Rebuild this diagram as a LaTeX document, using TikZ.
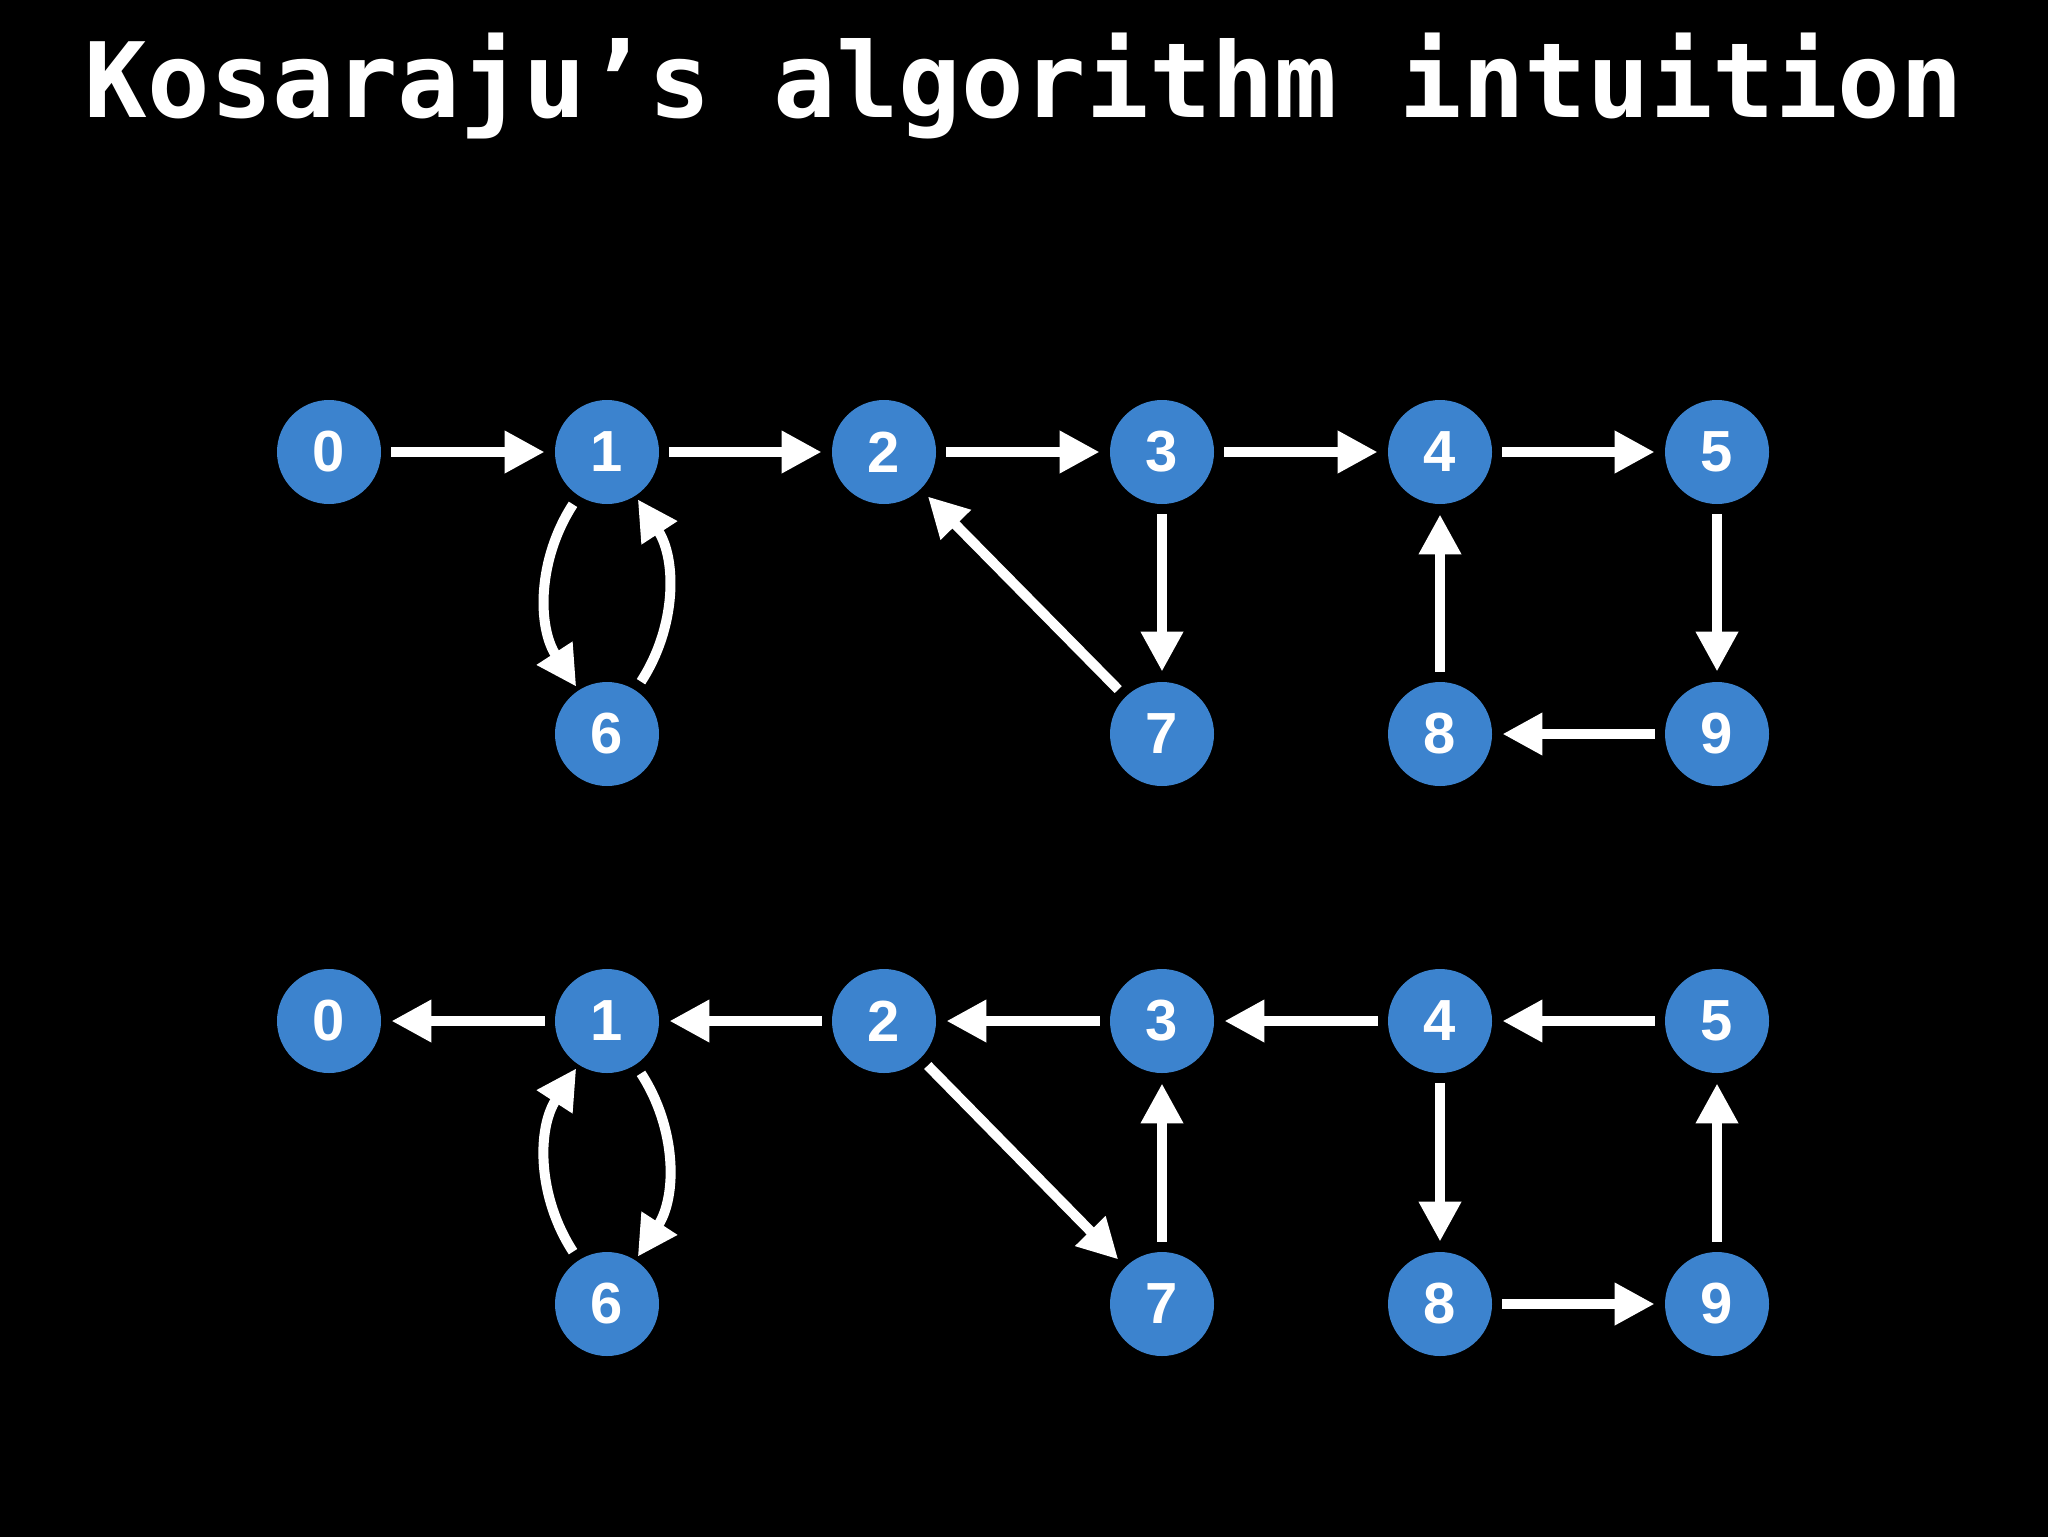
\documentclass[tikz,border=0pt]{standalone}
\usepackage{fontspec}
\setmainfont{Liberation Sans}
\setmonofont{DejaVu Sans Mono}
\usepackage{tikz}
\usetikzlibrary{arrows.meta}
\definecolor{nodeblue}{RGB}{60,131,206}
\tikzset{every node/.append style={font=\bfseries\fontsize{29}{34}\selectfont}}

\begin{document}
\begin{tikzpicture}[x=0.5pt, y=-0.5pt,
    vx/.style={circle, fill=nodeblue, text=white, minimum size=52pt, inner sep=0pt},
    ed/.style={-{Triangle[length=20pt, width=20pt]}, line width=5pt, white, shorten <=5pt, shorten >=5pt},
    ttl/.style={text=white, anchor=base, inner sep=0pt, font=\ttfamily\bfseries\fontsize{52}{60}\selectfont}]
    \useasboundingbox (0,0) rectangle (2048,1536);
    \fill[black] (-10,-10) rectangle (2058,1546);
    \node[ttl] (title) at (1024,118) {Kosaraju’s algorithm intuition};
    % original graph
    \node[vx] (t0) at (329,452) {0};
    \node[vx] (t1) at (607,452) {1};
    \node[vx] (t2) at (884,452) {2};
    \node[vx] (t3) at (1162,452) {3};
    \node[vx] (t4) at (1440,452) {4};
    \node[vx] (t5) at (1717,452) {5};
    \node[vx] (t6) at (607,734) {6};
    \node[vx] (t7) at (1162,734) {7};
    \node[vx] (t8) at (1440,734) {8};
    \node[vx] (t9) at (1717,734) {9};
    % transposed graph
    \node[vx] (r0) at (329,1021) {0};
    \node[vx] (r1) at (607,1021) {1};
    \node[vx] (r2) at (884,1021) {2};
    \node[vx] (r3) at (1162,1021) {3};
    \node[vx] (r4) at (1440,1021) {4};
    \node[vx] (r5) at (1717,1021) {5};
    \node[vx] (r6) at (607,1304) {6};
    \node[vx] (r7) at (1162,1304) {7};
    \node[vx] (r8) at (1440,1304) {8};
    \node[vx] (r9) at (1717,1304) {9};
    % edges
    \foreach \a/\b in {t0/t1, t1/t2, t2/t3, t3/t4, t4/t5, t5/t9, t9/t8, t8/t4, t3/t7, t7/t2} \draw[ed] (\a) -- (\b);
    \foreach \a/\b in {r1/r0, r2/r1, r3/r2, r4/r3, r5/r4, r9/r5, r8/r9, r4/r8, r7/r3, r2/r7} \draw[ed] (\a) -- (\b);
    % the 1--6 cycle
    \draw[ed, shorten >=2pt] (t1) to[bend right=33] (t6);
    \draw[ed, shorten >=2pt] (t6) to[bend right=33] (t1);
    \draw[ed, shorten >=2pt] (r6) to[bend left=33] (r1);
    \draw[ed, shorten >=2pt] (r1) to[bend left=33] (r6);
\end{tikzpicture}
\end{document}
